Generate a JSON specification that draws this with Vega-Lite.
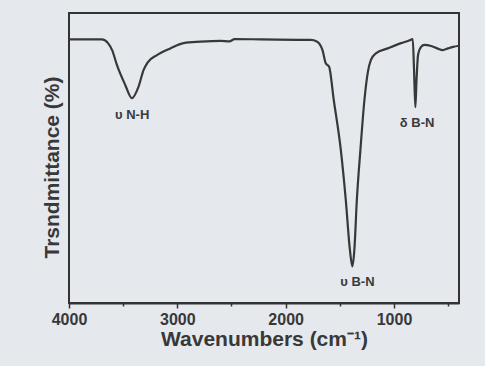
{
  "$schema": "https://vega.github.io/schema/vega-lite/v6.json",
  "width": 390,
  "height": 290,
  "autosize": {"type": "none"},
  "padding": {"left": 69, "top": 13, "right": 26, "bottom": 63},
  "background": "#e5e8ed",
  "config": {
    "view": {"stroke": "#333333", "strokeWidth": 2},
    "font": "Liberation Sans"
  },
  "datasets": {
    "spectrum": [
      {"w": 4000, "t": 90.9},
      {"w": 3697, "t": 90.9},
      {"w": 3640, "t": 89.6},
      {"w": 3600, "t": 87.0},
      {"w": 3558, "t": 82.1},
      {"w": 3481, "t": 75.2},
      {"w": 3419, "t": 70.6},
      {"w": 3358, "t": 74.6},
      {"w": 3312, "t": 80.3},
      {"w": 3275, "t": 82.9},
      {"w": 3188, "t": 85.5},
      {"w": 3065, "t": 87.8},
      {"w": 2942, "t": 89.6},
      {"w": 2787, "t": 90.1},
      {"w": 2602, "t": 90.4},
      {"w": 2519, "t": 90.2},
      {"w": 2472, "t": 91.0},
      {"w": 2232, "t": 90.9},
      {"w": 1769, "t": 90.7},
      {"w": 1713, "t": 90.2},
      {"w": 1660, "t": 87.2},
      {"w": 1630, "t": 82.7},
      {"w": 1599, "t": 81.5},
      {"w": 1556, "t": 70.0},
      {"w": 1491, "t": 52.8},
      {"w": 1445, "t": 35.5},
      {"w": 1407, "t": 18.3},
      {"w": 1384, "t": 12.6},
      {"w": 1366, "t": 18.3},
      {"w": 1343, "t": 35.5},
      {"w": 1310, "t": 52.8},
      {"w": 1273, "t": 70.0},
      {"w": 1241, "t": 79.7},
      {"w": 1213, "t": 83.8},
      {"w": 1167, "t": 86.1},
      {"w": 1058, "t": 87.8},
      {"w": 935, "t": 89.6},
      {"w": 861, "t": 90.5},
      {"w": 827, "t": 91.0},
      {"w": 815, "t": 80.3},
      {"w": 803, "t": 67.5},
      {"w": 792, "t": 76.9},
      {"w": 778, "t": 85.5},
      {"w": 750, "t": 88.3},
      {"w": 720, "t": 89.0},
      {"w": 657, "t": 88.6},
      {"w": 602, "t": 87.8},
      {"w": 549, "t": 87.2},
      {"w": 500, "t": 87.8},
      {"w": 454, "t": 88.3},
      {"w": 400, "t": 88.7}
    ],
    "labels": [
      {"w": 3417, "t": 64.8, "label": "υ N-H"},
      {"w": 1338, "t": 7.3, "label": "υ B-N"},
      {"w": 787, "t": 62.1, "label": "δ B-N"}
    ]
  },
  "layer": [
    {
      "data": {"name": "spectrum"},
      "mark": {"type": "line", "color": "#383838", "strokeWidth": 2.2, "interpolate": "monotone"},
      "encoding": {
        "x": {
          "field": "w", "type": "quantitative",
          "scale": {"domain": [400, 4000], "reverse": true, "nice": false, "zero": false},
          "axis": {
            "values": [4000, 3500, 3000, 2500, 2000, 1500, 1000, 500],
            "labelExpr": "datum.value % 1000 === 0 ? datum.value : ''",
            "title": "Wavenumbers (cm⁻¹)",
            "titleFont": "Liberation Sans", "titleFontSize": 21, "titleFontWeight": "bold", "titleColor": "#383838",
            "titlePadding": 1,
            "labelFont": "Liberation Sans", "labelFontSize": 16, "labelFontWeight": "bold", "labelColor": "#383838",
            "labelPadding": 3,
            "tickColor": "#333333",
            "tickSize": {"condition": {"test": "datum.value % 1000 === 0", "value": 5}, "value": 3},
            "tickWidth": 1.5,
            "domainColor": "#333333", "domainWidth": 2,
            "grid": false, "labelFlush": false
          }
        },
        "y": {
          "field": "t", "type": "quantitative",
          "scale": {"domain": [0, 100], "nice": false},
          "axis": {
            "title": "Trsndmittance (%)",
            "titleFont": "Liberation Sans", "titleFontSize": 21, "titleFontWeight": "bold", "titleColor": "#383838",
            "titlePadding": 7,
            "titleY": 154,
            "labels": false, "ticks": false, "domain": false, "grid": false
          }
        }
      }
    },
    {
      "data": {"name": "labels"},
      "mark": {"type": "text", "font": "Liberation Sans", "fontSize": 13, "fontWeight": "bold", "color": "#3a3a3a", "align": "center", "baseline": "middle"},
      "encoding": {
        "x": {"field": "w", "type": "quantitative"},
        "y": {"field": "t", "type": "quantitative"},
        "text": {"field": "label"}
      }
    }
  ]
}
